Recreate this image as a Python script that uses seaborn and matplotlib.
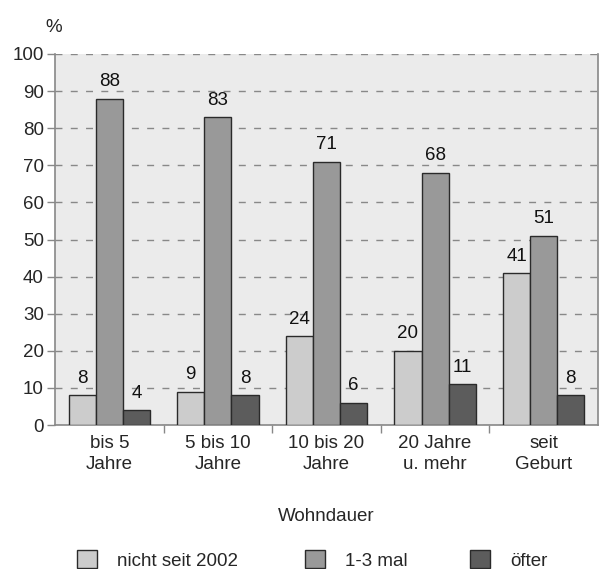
import matplotlib
matplotlib.use("Agg")
import matplotlib.pyplot as plt
import matplotlib.patches as mpatches
import seaborn as sns
import pandas as pd
import numpy as np

categories = ["bis 5\nJahre", "5 bis 10\nJahre", "10 bis 20\nJahre", "20 Jahre\nu. mehr", "seit\nGeburt"]
series = ["nicht seit 2002", "1-3 mal", "öfter"]
nicht_seit_2002 = [8, 9, 24, 20, 41]
ein_bis_drei_mal = [88, 83, 71, 68, 51]
oefter = [4, 8, 6, 11, 8]
colors = ["#cccccc", "#999999", "#5c5c5c"]

df = pd.DataFrame({
    "Wohndauer": categories * 3,
    "Serie": [series[0]] * 5 + [series[1]] * 5 + [series[2]] * 5,
    "Wert": nicht_seit_2002 + ein_bis_drei_mal + oefter,
})

sns.set_style("white")
plt.rcParams["font.family"] = ["Liberation Sans", "DejaVu Sans"]
FS = 13.5

fig = plt.figure(figsize=(6.13, 5.69), dpi=100)
ax = fig.add_axes([55 / 613, 1 - 425 / 569, (598 - 55) / 613, (425 - 54) / 569])
ax.set_facecolor("#ebebeb")

sns.barplot(data=df, x="Wohndauer", y="Wert", hue="Serie", hue_order=series,
            palette=colors, width=0.75, edgecolor="#2a2a2a", linewidth=1.0,
            saturation=1, legend=False, ax=ax, zorder=3)

for container in ax.containers:
    ax.bar_label(container, fmt="%d", padding=6, fontsize=FS, color="#111111")

ax.set_ylim(0, 100)
ax.set_xlim(-0.5, 4.5)
ax.set_yticks(np.arange(0, 101, 10))
ax.yaxis.grid(True, linestyle=(0, (5, 6)), color="#888888", linewidth=1.0, zorder=0)
ax.set_axisbelow(True)

for side in ["left", "right", "bottom"]:
    ax.spines[side].set_color("#888888")
    ax.spines[side].set_linewidth(1.2)
ax.spines["top"].set_visible(False)

ax.tick_params(axis="y", which="major", direction="out", length=6, width=1,
               color="#888888", labelsize=FS, pad=2, left=True)
ax.set_xticks(np.arange(5))
ax.set_xticklabels(categories, fontsize=FS, linespacing=1.35)
ax.tick_params(axis="x", which="major", length=0, pad=7)
ax.set_xticks(np.arange(0.5, 4, 1), minor=True)
ax.tick_params(axis="x", which="minor", direction="out", length=6, width=1,
               color="#888888", bottom=True)

ax.set_ylabel("")
ax.set_xlabel("Wohndauer", fontsize=FS, labelpad=25)
fig.text(54 / 613, 1 - 28 / 569, "%", fontsize=FS, ha="center", va="center")

# one legend entry per column, each anchored at its own x position
legend_x = [77, 305, 470]
for name, col, x in zip(series, colors, legend_x):
    h = mpatches.Patch(facecolor=col, edgecolor="#2a2a2a", linewidth=1.0)
    leg = fig.legend([h], [name], loc="center left", bbox_to_anchor=(x / 613, 1 - 560 / 569),
                     frameon=False, fontsize=FS, handlelength=1.05, handleheight=1.05,
                     handletextpad=1.1, borderpad=0, borderaxespad=0)

fig.savefig("out.png", dpi=100)
